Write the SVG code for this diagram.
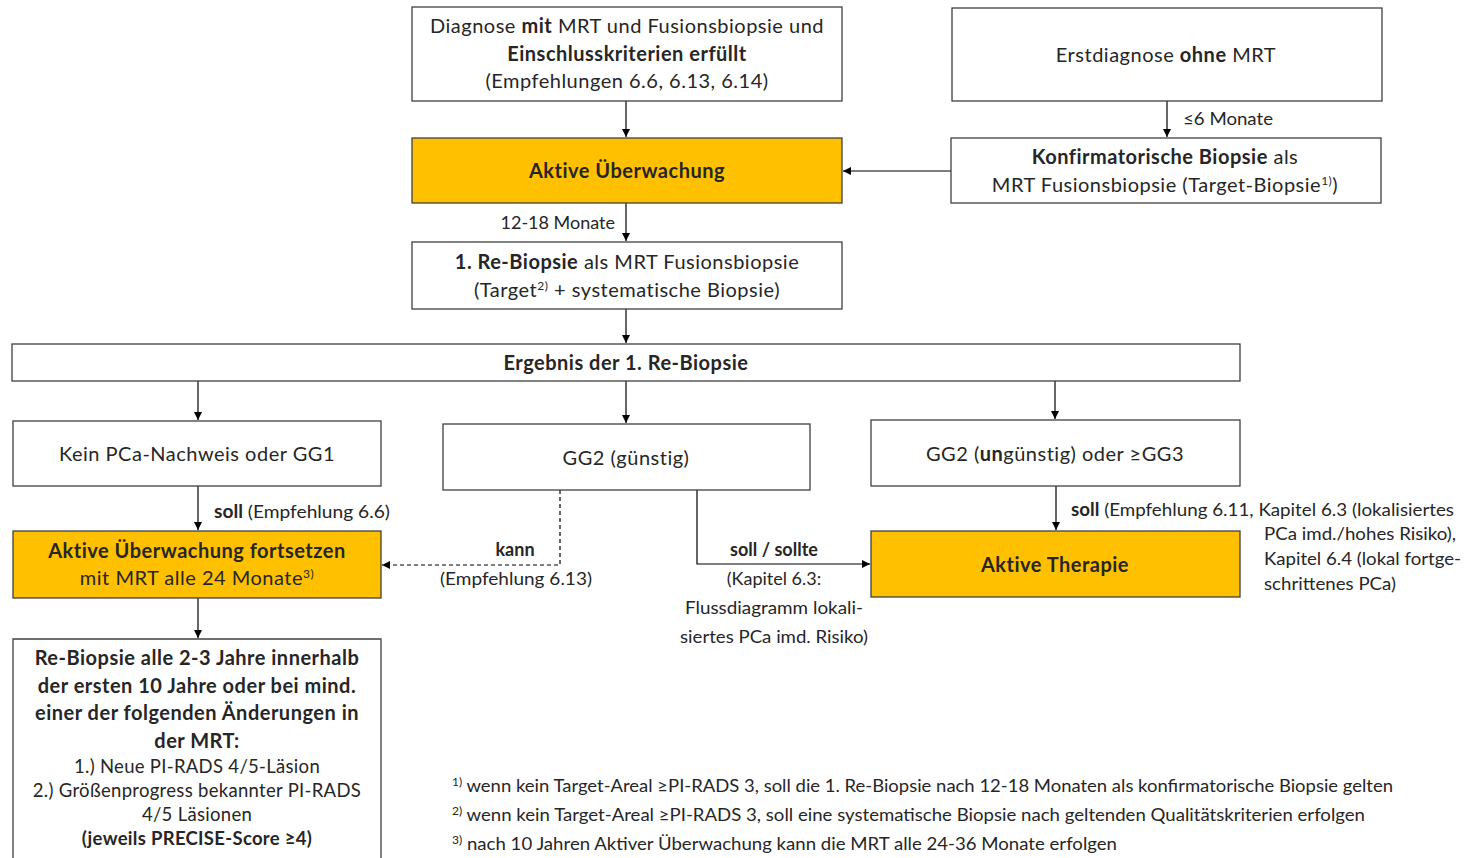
<svg xmlns="http://www.w3.org/2000/svg" width="1465" height="858" viewBox="0 0 1465 858">
<defs>
<marker id="ah" viewBox="0 0 10 10" refX="10" refY="5" markerWidth="8" markerHeight="8" markerUnits="userSpaceOnUse" orient="auto">
<path d="M0,0 L10,5 L0,10 z" fill="#000"/>
</marker>
</defs>
<style>
text{font-family:Lato,"Open Sans","Noto Sans",sans-serif;fill:#262626;}
.t{font-size:20px;text-anchor:middle;letter-spacing:0.5px;}
.b{font-weight:bold;}
.l{font-size:18px;}
.s{font-size:18.5px;letter-spacing:0.3px;}
.f{font-size:17px;}
.box{fill:#fff;stroke:#404040;stroke-width:1.3;}
.or{fill:#FFC000;stroke:#404040;stroke-width:1.3;}
.c{fill:none;stroke:#000;stroke-width:1.2;marker-end:url(#ah);}
.d{stroke-dasharray:4 3;}
</style>
<rect width="1465" height="858" fill="#fff"/>

<g id="connectors">
<path class="c" d="M626,101 V137"/>
<path class="c" d="M1167,101 V137"/>
<path class="c" d="M951,171 H843"/>
<path class="c" d="M626,203 V241"/>
<path class="c" d="M626,309 V343"/>
<path class="c" d="M198,381 V420"/>
<path class="c" d="M626,381 V423"/>
<path class="c" d="M1055,381 V419"/>
<path class="c" d="M198,486 V530"/>
<path class="c d" d="M560,490 V565 H382"/>
<path class="c" d="M697,490 V564 H870"/>
<path class="c" d="M1056,486 V530"/>
<path class="c" d="M198,598 V638"/>
<text x="1183" y="125" class="l" textLength="90" lengthAdjust="spacingAndGlyphs">≤6 Monate</text>
<text x="615" y="229" class="l" text-anchor="end">12-18 Monate</text>
<text x="214" y="518" class="l" textLength="176" lengthAdjust="spacingAndGlyphs"><tspan class="b">soll</tspan> (Empfehlung 6.6)</text>
<text x="515" y="556" class="l b" text-anchor="middle">kann</text>
<text x="516" y="585" class="l" text-anchor="middle" textLength="152" lengthAdjust="spacingAndGlyphs">(Empfehlung 6.13)</text>
<text x="774" y="556" class="l b" text-anchor="middle">soll / sollte</text>
<text x="774" y="585" class="l" text-anchor="middle">(Kapitel 6.3:</text>
<text x="774" y="614" class="l" text-anchor="middle" textLength="178" lengthAdjust="spacingAndGlyphs">Flussdiagramm lokali-</text>
<text x="774" y="643" class="l" text-anchor="middle" textLength="188" lengthAdjust="spacingAndGlyphs">siertes PCa imd. Risiko)</text>
<text x="1071" y="516" class="l" textLength="383" lengthAdjust="spacingAndGlyphs"><tspan class="b">soll</tspan> (Empfehlung 6.11, Kapitel 6.3 (lokalisiertes</text>
<text x="1264" y="540" class="l" textLength="192" lengthAdjust="spacingAndGlyphs">PCa imd./hohes Risiko),</text>
<text x="1264" y="565" class="l" textLength="197" lengthAdjust="spacingAndGlyphs">Kapitel 6.4 (lokal fortge-</text>
<text x="1264" y="590" class="l" textLength="132" lengthAdjust="spacingAndGlyphs">schrittenes PCa)</text>
</g>

<g id="n1">
<rect class="box" x="412" y="7" width="430" height="94"/>
<text class="t" x="627" y="33"><tspan>Diagnose </tspan><tspan class="b">mit</tspan><tspan> MRT und Fusionsbiopsie und</tspan></text>
<text class="t b" x="627" y="61">Einschlusskriterien  erfüllt</text>
<text class="t" x="627" y="88">(Empfehlungen 6.6, 6.13, 6.14)</text>
</g>

<g id="n2">
<rect class="box" x="952" y="8" width="430" height="93"/>
<text class="t" x="1166" y="62">Erstdiagnose <tspan class="b">ohne</tspan> MRT</text>
</g>

<g id="n3">
<rect class="box" x="951" y="138" width="430" height="65"/>
<text class="t" x="1165" y="164"><tspan class="b">Konfirmatorische  Biopsie</tspan> als</text>
<text class="t" x="1165" y="192">MRT Fusionsbiopsie (Target-Biopsie<tspan dy="-7" font-size="12">1)</tspan><tspan dy="7">)</tspan></text>
</g>

<g id="n4">
<rect class="or" x="412" y="138" width="430" height="65"/>
<text class="t b" x="627" y="178">Aktive Überwachung</text>
</g>

<g id="n5">
<rect class="box" x="412" y="242" width="430" height="67"/>
<text class="t" x="627" y="269"><tspan class="b">1. Re-Biopsie</tspan> als MRT Fusionsbiopsie</text>
<text class="t" x="627" y="297">(Target<tspan dy="-7" font-size="12">2)</tspan><tspan dy="7"> + systematische Biopsie)</tspan></text>
</g>

<g id="n6">
<rect class="box" x="12" y="344" width="1228" height="37"/>
<text class="t b" x="626" y="370">Ergebnis der 1. Re-Biopsie</text>
</g>

<g id="n7">
<rect class="box" x="13" y="421" width="368" height="65"/>
<text class="t" x="197" y="461">Kein PCa-Nachweis oder GG1</text>
</g>

<g id="n8">
<rect class="box" x="443" y="424" width="367" height="66"/>
<text class="t" x="626" y="465">GG2 (günstig)</text>
</g>

<g id="n9">
<rect class="box" x="871" y="420" width="369" height="66"/>
<text class="t" x="1055" y="461">GG2 (<tspan class="b">un</tspan>günstig) oder ≥GG3</text>
</g>

<g id="n10">
<rect class="or" x="13" y="531" width="368" height="67"/>
<text class="t b" x="197" y="558">Aktive Überwachung  fortsetzen</text>
<text class="t" x="197" y="585">mit MRT alle 24 Monate<tspan dy="-7" font-size="12">3)</tspan></text>
</g>

<g id="n11">
<rect class="or" x="871" y="531" width="369" height="66"/>
<text class="t b" x="1055" y="572">Aktive Therapie</text>
</g>

<g id="n12">
<path class="box" d="M13,870 V639 H381 V870"/>
<text class="t b" x="197" y="665">Re-Biopsie alle 2-3 Jahre innerhalb</text>
<text class="t b" x="197" y="693">der ersten 10 Jahre oder bei mind.</text>
<text class="t b" x="197" y="720">einer der folgenden Änderungen in</text>
<text class="t b" x="197" y="748">der MRT:</text>
<text class="t s" x="197" y="773">1.) Neue PI-RADS 4/5-Läsion</text>
<text class="t s" x="197" y="797">2.) Größenprogress bekannter PI-RADS</text>
<text class="t s" x="197" y="821">4/5 Läsionen</text>
<text class="t s b" x="197" y="845">(jeweils PRECISE-Score ≥4)</text>
</g>

<g id="footnotes">
<text class="f" x="452" y="792" textLength="941" lengthAdjust="spacingAndGlyphs"><tspan dy="-6" font-size="11">1)</tspan><tspan dy="6"> wenn kein Target-Areal ≥PI-RADS 3, soll die 1. Re-Biopsie nach 12-18 Monaten als konfirmatorische Biopsie gelten</tspan></text>
<text class="f" x="452" y="821" textLength="913" lengthAdjust="spacingAndGlyphs"><tspan dy="-6" font-size="11">2)</tspan><tspan dy="6"> wenn kein Target-Areal ≥PI-RADS 3, soll eine systematische Biopsie nach geltenden  Qualitätskriterien erfolgen</tspan></text>
<text class="f" x="452" y="850" textLength="665" lengthAdjust="spacingAndGlyphs"><tspan dy="-6" font-size="11">3)</tspan><tspan dy="6"> nach 10 Jahren Aktiver Überwachung kann die MRT alle  24-36 Monate erfolgen</tspan></text>
</g>
</svg>
